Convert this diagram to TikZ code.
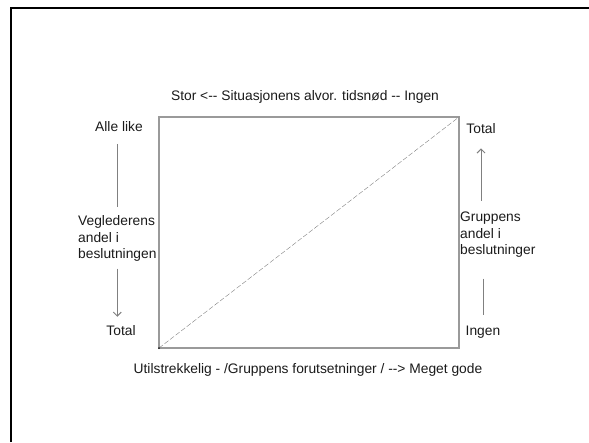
\documentclass[tikz,border=0pt]{standalone}
\usepackage{fontspec}
\setmainfont{Liberation Sans}
\usetikzlibrary{arrows.meta}
\definecolor{inkGrey}{HTML}{1A1A1A}
\definecolor{lineGrey}{HTML}{808080}
\definecolor{boxGrey}{HTML}{9A9A9A}

\begin{document}
\begin{tikzpicture}[x=1pt, y=-1pt,
    every node/.style={font={\fontsize{13.8}{16.5}\selectfont}, text=inkGrey, inner sep=0pt},
    guide/.style={lineGrey, line width=1pt},
    tip/.style={-{Straight Barb[length=4pt, width=8pt]}}]
  \useasboundingbox (0,0) rectangle (589,442);
  \draw[line width=2.5pt, black] (11,442) -- (11,8) -- (589,8);
  % the square and its diagonal
  \coordinate (sw) at (159,348);
  \coordinate (ne) at (459,117);
  \draw[boxGrey, line width=1.3pt] (sw) rectangle (ne);
  \draw[lineGrey, dash pattern=on 5pt off 2pt] (sw) -- (ne);
  \fill[inkGrey] (sw) circle (1pt);
  % axis texts
  \node[anchor=base] (alvor) at (305,100.5) {Stor <{-}{-} Situasjonens alvor. tidsnød {-}{-} Ingen};
  \node[anchor=base] (forutsetn) at (308,373) {Utilstrekkelig - /Gruppens forutsetninger / {-}{-}> Meget gode};
  \node[anchor=base] (allelike) at (119,131.6) {Alle like};
  \node[anchor=west, align=left] (vegleder) at (78,238.6) {Veglederens\\andel i\\beslutningen};
  \node[anchor=base] (totalL) at (121,335) {Total};
  \node[anchor=base] (totalR) at (481,133) {Total};
  \node[anchor=west, align=left] (gruppe) at (460,234.7) {Gruppens\\andel i\\beslutninger};
  \node[anchor=base] (ingen) at (483,335) {Ingen};
  % guides
  \draw[guide, shorten <=12pt, shorten >=8pt] (vegleder.north |- allelike.south) -- (vegleder.north);
  \draw[guide, tip, shorten <=7pt, shorten >=8pt] (vegleder.south) -- (vegleder.south |- totalL.north);
  \draw[guide, tip, shorten <=11pt, shorten >=15pt] (totalR.south |- gruppe.north) -- (totalR.south);
  \draw[guide, shorten <=21pt, shorten >=10pt] (ingen.north |- gruppe.south) -- (ingen.north);
\end{tikzpicture}
\end{document}
